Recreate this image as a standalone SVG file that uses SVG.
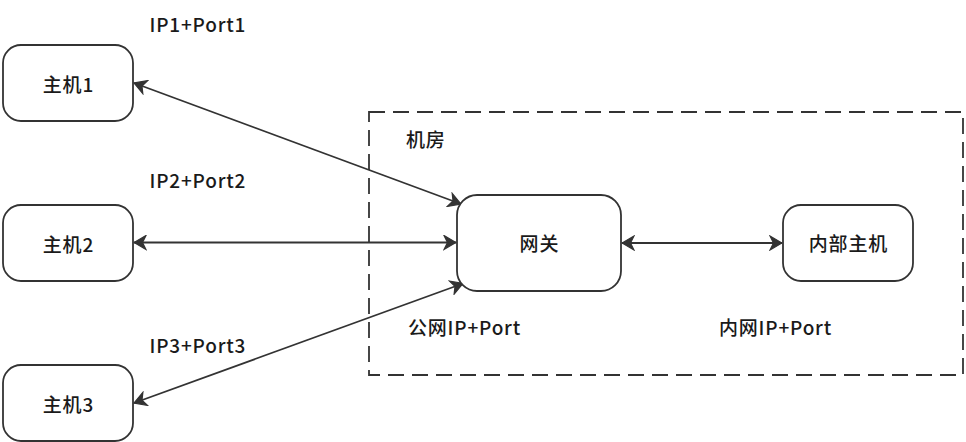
<svg xmlns="http://www.w3.org/2000/svg" width="966" height="442" viewBox="0 0 966 442">
<style>
.box{fill:#fff;stroke:#333;stroke-width:1.8}
.t{font-family:"Noto Sans CJK SC","Noto Sans",sans-serif;font-size:19px;font-weight:500;letter-spacing:0.8px;fill:#1a1a1a}
.c{text-anchor:middle}
.ln{stroke:#333;stroke-width:1.8;fill:none;marker-start:url(#ar);marker-end:url(#ar)}
</style>
<defs>
<marker id="ar" viewBox="0 0 14 16" refX="13" refY="8" markerWidth="14" markerHeight="16" markerUnits="userSpaceOnUse" orient="auto-start-reverse">
<path d="M1,1 L13,8 L1,15 L4.5,8 Z" fill="#333" stroke="#333" stroke-width="1.2" stroke-linejoin="miter"/>
</marker>
</defs>
<rect x="369" y="112" width="594" height="263" fill="none" stroke="#333" stroke-width="1.8" stroke-dasharray="16 8"/>
<g id="connectors">
<line class="ln" x1="134" y1="83" x2="461" y2="204"/>
<line class="ln" x1="134" y1="242.5" x2="456" y2="242.5"/>
<line class="ln" x1="134" y1="403" x2="463" y2="283.5"/>
<line class="ln" x1="622" y1="243" x2="782" y2="243"/>
</g>
<g id="host1"><rect class="box" x="3" y="45" width="130" height="76" rx="18"/><text class="t c" x="68.4" y="92">主机1</text></g>
<g id="host2"><rect class="box" x="3" y="205" width="130" height="76" rx="18"/><text class="t c" x="68.4" y="252">主机2</text></g>
<g id="host3"><rect class="box" x="3" y="365" width="130" height="76" rx="18"/><text class="t c" x="68.4" y="412">主机3</text></g>
<g id="gateway"><rect class="box" x="457" y="195" width="164" height="96" rx="20"/><text class="t c" x="539.4" y="251">网关</text></g>
<g id="internal"><rect class="box" x="783" y="205" width="130" height="76" rx="18"/><text class="t c" x="848.4" y="251">内部主机</text></g>
<g id="labels">
<text class="t c" x="197.9" y="32">IP1+Port1</text>
<text class="t c" x="197.9" y="188">IP2+Port2</text>
<text class="t c" x="197.9" y="353">IP3+Port3</text>
<text class="t" x="406" y="147">机房</text>
<text class="t" x="408" y="335">公网IP+Port</text>
<text class="t" x="719" y="335">内网IP+Port</text>
</g>
</svg>
